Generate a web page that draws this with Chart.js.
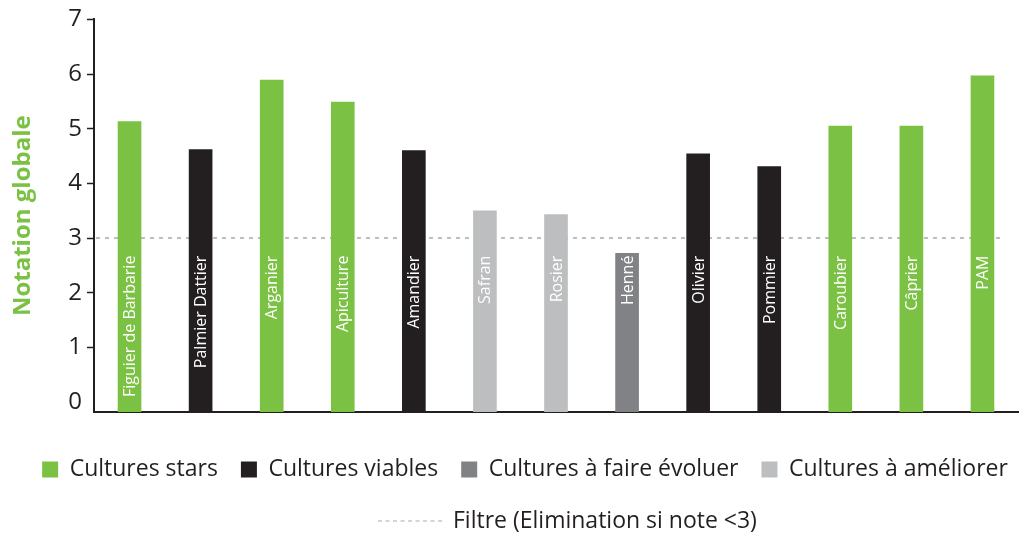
<!DOCTYPE html>
<html><head><meta charset="utf-8">
<script src="https://cdn.jsdelivr.net/npm/chart.js@4.4.1/dist/chart.umd.min.js"></script>
<style>html,body{margin:0;padding:0;background:#fff;}#wrap{width:1029px;height:536px;position:relative;}</style>
</head><body><div id="wrap"><canvas id="c"></canvas></div>
<script>
// ---- data ----
const categories = ['Figuier de Barbarie','Palmier Dattier','Arganier','Apiculture','Amandier','Safran','Rosier','Henné','Olivier','Pommier','Caroubier','Câprier','PAM'];
const scores = [5.13, 4.62, 5.89, 5.49, 4.60, 3.50, 3.43, 2.72, 4.54, 4.31, 5.05, 5.05, 5.97];
const groupOf = [0, 1, 0, 0, 1, 3, 3, 2, 1, 1, 0, 0, 0];
const groupNames = ['Cultures stars', 'Cultures viables', 'Cultures à faire évoluer', 'Cultures à améliorer'];
const groupColors = ['#7BC143', '#231F20', '#808285', '#BCBEC0'];
const yTicks = [0, 1, 2, 3, 4, 5, 6, 7];
const filterValue = 3;
const filterLabel = 'Filtre (Elimination si note <3)';
const axisTitle = 'Notation globale';

// ---- style constants ----
const Y_MIN = -0.18, Y_MAX = 7;
const LABEL_TOP_VALUE = 2.68;
const FONT = "'Open Sans', sans-serif";
const INK = '#231F20';
const DASH_COLOR = '#A7A9AC';
const LEGEND_SHIFT = 16;

const datasets = groupNames.map((name, g) => ({
  label: name,
  data: scores.map((v, i) => groupOf[i] === g ? v : null),
  backgroundColor: groupColors[g],
  borderWidth: 0,
  barThickness: 23,
  grouped: false,
  base: Y_MIN
}));

const filterLinePlugin = {
  id: 'filterLine',
  beforeDatasetsDraw(chart) {
    const {ctx, chartArea} = chart;
    const y = chart.scales.y.getPixelForValue(filterValue);
    ctx.save();
    ctx.strokeStyle = DASH_COLOR;
    ctx.lineWidth = 1.5;
    ctx.setLineDash([4, 5]);
    ctx.beginPath();
    ctx.moveTo(chartArea.left + 2, y);
    ctx.lineTo(chartArea.right - 14, y);
    ctx.stroke();
    ctx.restore();
  }
};

const barLabelPlugin = {
  id: 'barLabels',
  afterDatasetsDraw(chart) {
    const {ctx} = chart;
    const xs = chart.scales.x, ys = chart.scales.y;
    const yTop = ys.getPixelForValue(LABEL_TOP_VALUE);
    ctx.save();
    ctx.fillStyle = '#FFFFFF';
    ctx.font = '16px ' + FONT;
    ctx.textAlign = 'right';
    ctx.textBaseline = 'middle';
    categories.forEach((c, i) => {
      const x = xs.getPixelForValue(i);
      ctx.save();
      ctx.translate(x + 1, yTop);
      ctx.rotate(-Math.PI / 2);
      ctx.fillText(c, 0, 0);
      ctx.restore();
    });
    ctx.restore();
  }
};

const legendShiftPlugin = {
  id: 'legendShift',
  afterLayout(chart) {
    const lg = chart.legend;
    if (lg) { lg.left += LEGEND_SHIFT; lg.right += LEGEND_SHIFT; }
  }
};

const filterLegendPlugin = {
  id: 'filterLegend',
  afterDraw(chart) {
    const {ctx} = chart;
    const lg = chart.legend;
    const y = lg.bottom + 30;
    const x0 = 378;
    ctx.save();
    ctx.strokeStyle = DASH_COLOR;
    ctx.lineWidth = 1.2;
    ctx.setLineDash([4, 3.5]);
    ctx.beginPath();
    ctx.moveTo(x0, y);
    ctx.lineTo(x0 + 67, y);
    ctx.stroke();
    ctx.setLineDash([]);
    ctx.fillStyle = INK;
    ctx.font = '23px ' + FONT;
    ctx.textAlign = 'left';
    ctx.textBaseline = 'middle';
    ctx.fillText(filterLabel, x0 + 75, y);
    ctx.restore();
  }
};

new Chart(document.getElementById('c'), {
  type: 'bar',
  data: { labels: categories, datasets },
  options: {
    responsive: true,
    maintainAspectRatio: false,
    animation: false,
    layout: { padding: { top: 15, right: 11, bottom: 45, left: 0 } },
    plugins: {
      tooltip: { enabled: false },
      legend: {
        position: 'bottom',
        labels: {
          boxWidth: 16, boxHeight: 16, padding: 23,
          color: INK,
          font: { size: 23, family: FONT }
        }
      }
    },
    scales: {
      x: {
        offset: true,
        ticks: { display: false },
        grid: { display: false },
        border: { display: true, color: INK, width: 2 },
        afterFit(s) { s.height = 23; }
      },
      y: {
        min: Y_MIN, max: Y_MAX,
        afterBuildTicks(s) { s.ticks = yTicks.map(v => ({ value: v })); },
        afterFit(s) { s.width = 94; },
        ticks: { color: INK, padding: 5, font: { size: 24, family: FONT } },
        grid: {
          drawOnChartArea: false, tickLength: 7, tickWidth: 1.5,
          tickColor: c => (c.tick && c.tick.value === 0) ? 'rgba(0,0,0,0)' : INK
        },
        border: { display: true, color: INK, width: 2 },
        title: {
          display: true, text: axisTitle, color: '#7BC143',
          font: { size: 24, weight: 'bold', family: FONT },
          padding: { top: 9, bottom: 0 }
        }
      }
    }
  },
  plugins: [filterLinePlugin, barLabelPlugin, legendShiftPlugin, filterLegendPlugin]
});
</script>
</body></html>
